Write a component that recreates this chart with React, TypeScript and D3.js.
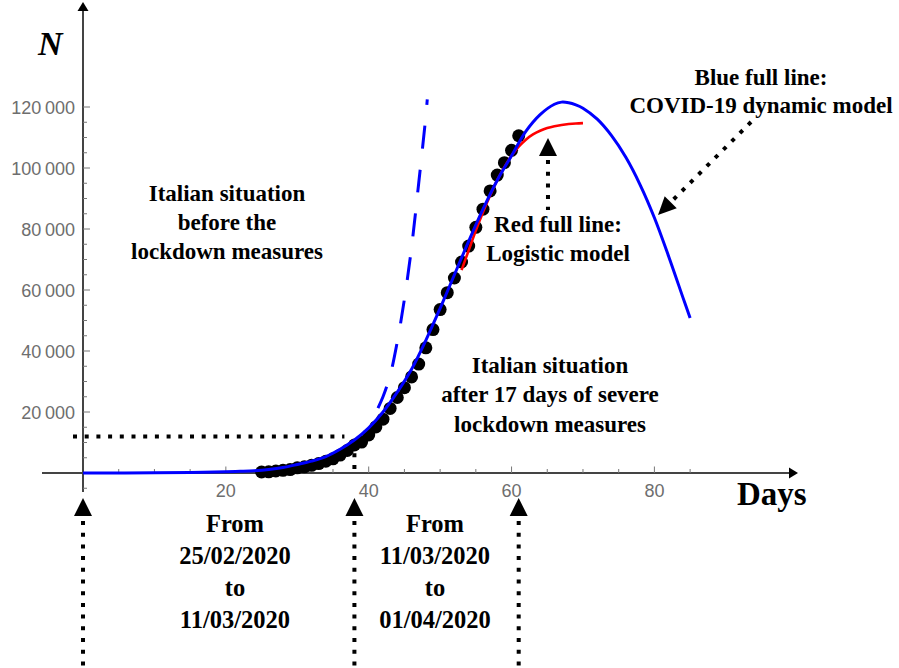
import * as d3 from "d3";

// Observed Italian total cases, one point per day (day 25 = 25/02/2020 ... day 61 = 01/04/2020)
const dataDays = [
  25, 26, 27, 28, 29, 30, 31, 32, 33, 34, 35, 36, 37, 38, 39, 40, 41, 42, 43,
  44, 45, 46, 47, 48, 49, 50, 51, 52, 53, 54, 55, 56, 57, 58, 59, 60, 61,
];
const dataCases = [
  322, 400, 650, 888, 1128, 1694, 2036, 2502, 3089, 3858, 4636, 5883, 7375,
  9172, 10149, 12462, 15113, 17660, 21157, 24747, 27980, 31506, 35713, 41035,
  47021, 53578, 59138, 63927, 69176, 74386, 80539, 86498, 92472, 97689, 101739,
  105792, 110574,
];

// Blue full line: COVID-19 dynamic model
const dynDays = [
  0, 5, 10, 15, 20, 22, 24, 26, 28, 30, 32, 34, 36, 38, 40, 42, 44, 46, 48, 50,
  52, 54, 56, 58, 60, 62, 64, 66, 67, 68, 69, 70, 72, 74, 76, 78, 80, 82, 84, 85,
];
const dynCases = [
  0, 30, 80, 180, 400, 550, 750, 1150, 1800, 2800, 3900, 5400, 7800, 10800,
  14800, 20000, 26500, 34000, 43500, 54000, 65000, 76000, 86500, 96000, 104000,
  112000, 117500, 120900, 121600, 121400, 120700, 119600, 116000, 110600,
  103500, 94500, 83700, 71000, 57500, 50800,
];

// Red full line: logistic model
const logDays = [53, 54, 55, 56, 57, 58, 59, 60, 61, 62, 63, 64, 65, 66, 67, 68, 69, 70];
const logCases = [
  66500, 73000, 79500, 85500, 91000, 96000, 100300, 104000, 107000, 109300,
  111000, 112200, 113100, 113700, 114100, 114400, 114600, 114700,
];

// Blue dashed line: pre-lockdown exponential trend
const expDays = [41.3, 42, 43, 44, 45, 46, 47, 48, 48.2];
const expCases = [21300, 25000, 32000, 43000, 57000, 74000, 95000, 117000, 122500];

const xMajor = [20, 40, 60, 80];
const yMajor = [20000, 40000, 60000, 80000, 100000, 120000];
const yLabels = ["20\u2009000", "40\u2009000", "60\u2009000", "80\u2009000", "100\u2009000", "120\u2009000"];
const markerDays = [0, 38, 61];

const W = 899;
const H = 668;
const serif = "'Liberation Serif', 'Times New Roman', serif";
const sans = "'Liberation Sans', Arial, sans-serif";

export default function App() {
  const x = d3.scaleLinear().domain([0, 80]).range([83, 654.4]);
  const y = d3.scaleLinear().domain([0, 120000]).range([473, 107]);

  const line = d3
    .line<[number, number]>()
    .x((d) => x(d[0]))
    .y((d) => y(d[1]))
    .curve(d3.curveCatmullRom.alpha(0.5));

  const dynPath = line(dynDays.map((d, i) => [d, dynCases[i]]))!;
  const logPath = line(logDays.map((d, i) => [d, logCases[i]]))!;
  const expPath = line(expDays.map((d, i) => [d, expCases[i]]))!;

  const xMinor = d3.range(5, 86, 5).filter((d) => d % 20 !== 0);
  const yMinor = d3.range(-5000, 120001, 5000).filter((d) => d % 20000 !== 0);

  const x0 = x(0);
  const y0 = y(0);
  const dot = { stroke: "#000", strokeWidth: 4, strokeDasharray: "4 7.7", fill: "none" };
  const bold = { fontFamily: serif, fontWeight: 700, fontSize: 23, textAnchor: "middle" as const };

  // diagonal arrow towards the blue curve
  const tip = [658, 215];
  const u = [-Math.SQRT1_2, Math.SQRT1_2];
  const base = [tip[0] - 18 * u[0], tip[1] - 18 * u[1]];
  const p = [Math.SQRT1_2, Math.SQRT1_2];

  const redX = x(65.1);

  return (
    <svg width={W} height={H} style={{ position: "absolute", left: 0, top: 0, background: "#fff" }}>
      {/* axes */}
      <line x1={42} y1={y0} x2={790} y2={y0} stroke="#444" strokeWidth={2} />
      <polygon points={`798,${y0} 789,${y0 - 5.5} 789,${y0 + 5.5}`} fill="#000" />
      <line x1={x0} y1={492} x2={x0} y2={10} stroke="#444" strokeWidth={2} />
      <polygon points={`${x0},2 ${x0 - 5.5},11 ${x0 + 5.5},11`} fill="#000" />

      {xMinor.map((d) => (
        <line key={"xm" + d} x1={x(d)} x2={x(d)} y1={y0} y2={y0 - 4} stroke="#777" strokeWidth={1} />
      ))}
      {xMajor.map((d) => (
        <g key={"xM" + d}>
          <line x1={x(d)} x2={x(d)} y1={y0} y2={y0 - 6.5} stroke="#777" strokeWidth={1} />
          <text x={x(d)} y={497} textAnchor="middle" fontFamily={sans} fontSize={18} fill="#6e6e6e">
            {d}
          </text>
        </g>
      ))}
      {yMinor.map((d) => (
        <line key={"ym" + d} x1={x0} x2={x0 + 4} y1={y(d)} y2={y(d)} stroke="#777" strokeWidth={1} />
      ))}
      {yMajor.map((d, i) => (
        <g key={"yM" + d}>
          <line x1={x0} x2={x0 + 7} y1={y(d)} y2={y(d)} stroke="#777" strokeWidth={1} />
          <text x={75} y={y(d) + 6.5} textAnchor="end" fontFamily={sans} fontSize={18} fill="#6e6e6e">
            {yLabels[i]}
          </text>
        </g>
      ))}

      <text x={38} y={55} fontFamily={serif} fontWeight={700} fontStyle="italic" fontSize={34}>
        N
      </text>
      <text x={737} y={505} fontFamily={serif} fontWeight={700} fontSize={33}>
        Days
      </text>

      {/* lockdown guide lines */}
      <line x1={x(-1.4)} x2={x(36.6)} y1={y(12000)} y2={y(12000)} {...dot} />
      <line x1={x(38)} x2={x(38)} y1={y(6500)} y2={y(1000)} {...dot} />

      {/* data points */}
      {dataDays.map((d, i) => (
        <circle key={"pt" + d} cx={x(d)} cy={y(dataCases[i])} r={6.5} fill="#000" />
      ))}

      {/* model curves */}
      <path d={expPath} fill="none" stroke="#0000ff" strokeWidth={3} strokeDasharray="23 21" />
      <path d={logPath} fill="none" stroke="#ff0000" strokeWidth={2.6} />
      <path d={dynPath} fill="none" stroke="#0000ff" strokeWidth={3} />

      {/* bottom time-window arrows */}
      {markerDays.map((d) => (
        <g key={"mk" + d}>
          <polygon points={`${x(d)},498 ${x(d) - 9},516 ${x(d) + 9},516`} fill="#000" />
          <line x1={x(d)} x2={x(d)} y1={521} y2={668} {...dot} />
        </g>
      ))}

      {/* red arrow */}
      <polygon points={`${redX},138 ${redX - 9},156 ${redX + 9},156`} fill="#000" />
      <line x1={redX} x2={redX} y1={160} y2={210} {...dot} />

      {/* diagonal arrow */}
      <polygon
        points={`${tip[0]},${tip[1]} ${base[0] + 8.5 * p[0]},${base[1] + 8.5 * p[1]} ${base[0] - 8.5 * p[0]},${base[1] - 8.5 * p[1]}`}
        fill="#000"
      />
      <line x1={751} y1={122} x2={base[0] + 2} y2={base[1] - 2} {...dot} />

      {/* annotations */}
      <text {...bold} x={761} y={85}>Blue full line:</text>
      <text {...bold} x={761} y={113}>COVID-19 dynamic model</text>
      <text {...bold} x={558} y={232}>Red full line:</text>
      <text {...bold} x={558} y={261}>Logistic model</text>
      <text {...bold} x={227} y={201}>Italian situation</text>
      <text {...bold} x={227} y={230}>before the</text>
      <text {...bold} x={227} y={259}>lockdown measures</text>
      <text {...bold} x={550} y={373}>Italian situation</text>
      <text {...bold} x={550} y={402}>after 17 days of severe</text>
      <text {...bold} x={550} y={432}>lockdown measures</text>

      <g style={{ fontFamily: serif, fontWeight: 700, fontSize: 24.5 }} textAnchor="middle">
        <text x={235} y={532}>From</text>
        <text x={235} y={564}>25/02/2020</text>
        <text x={235} y={596}>to</text>
        <text x={235} y={628}>11/03/2020</text>
        <text x={435} y={532}>From</text>
        <text x={435} y={564}>11/03/2020</text>
        <text x={435} y={596}>to</text>
        <text x={435} y={628}>01/04/2020</text>
      </g>
    </svg>
  );
}
